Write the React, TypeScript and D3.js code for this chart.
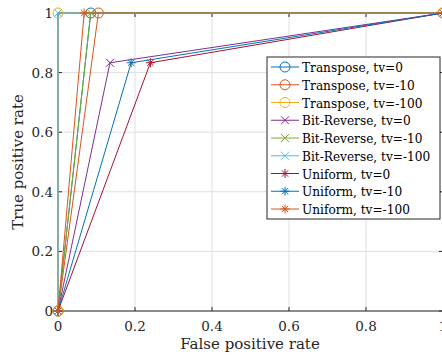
import React, { useEffect, useRef } from 'react';
import * as d3 from 'd3';

// one entry per curve: label, colour, marker, and the middle ROC point
const seriesLabels = [
  'Transpose, tv=0',
  'Transpose, tv=-10',
  'Transpose, tv=-100',
  'Bit-Reverse, tv=0',
  'Bit-Reverse, tv=-10',
  'Bit-Reverse, tv=-100',
  'Uniform, tv=0',
  'Uniform, tv=-10',
  'Uniform, tv=-100',
];
const seriesColors = ['#0072BD', '#D95319', '#EDB120', '#7E2F8E', '#77AC30', '#4DBEEE', '#A2142F', '#0072BD', '#D95319'];
const seriesMarkers = ['o', 'o', 'o', 'x', 'x', 'x', '*', '*', '*'];
const fprValues = [0.085, 0.105, 0, 0.135, 0.085, 0, 0.24, 0.19, 0.068];
const tprValues = [1, 1, 1, 0.833, 1, 1, 0.833, 0.833, 1];

const xTicks = [0, 0.2, 0.4, 0.6, 0.8, 1];
const yTicks = [0, 0.2, 0.4, 0.6, 0.8, 1];

const FONT = "'DejaVu Serif', serif";

const drawMarker = (g, kind, cx, cy, color) => {
  if (kind === 'o') {
    g.append('circle').attr('cx', cx).attr('cy', cy).attr('r', 5)
      .attr('fill', 'none').attr('stroke', color).attr('stroke-width', 1);
  } else if (kind === 'x') {
    const s = 4;
    g.append('path')
      .attr('d', `M${cx - s},${cy - s}L${cx + s},${cy + s}M${cx - s},${cy + s}L${cx + s},${cy - s}`)
      .attr('stroke', color).attr('stroke-width', 1);
  } else {
    const s = 4.5;
    const d = s * 0.707;
    g.append('path')
      .attr('d', `M${cx - s},${cy}L${cx + s},${cy}M${cx},${cy - s}L${cx},${cy + s}M${cx - d},${cy - d}L${cx + d},${cy + d}M${cx - d},${cy + d}L${cx + d},${cy - d}`)
      .attr('stroke', color).attr('stroke-width', 1);
  }
};

const RocChart = () => {
  const svgRef = useRef(null);

  useEffect(() => {
    const svg = d3.select(svgRef.current);
    svg.selectAll('*').remove();

    const left = 58, top = 13, right = 443, bottom = 311;

    const x = d3.scaleLinear().domain([0, 1]).range([left, right]);
    const y = d3.scaleLinear().domain([0, 1]).range([bottom, top]);

    // grid
    const grid = svg.append('g');
    xTicks.forEach(t => {
      grid.append('line').attr('x1', x(t)).attr('x2', x(t)).attr('y1', top).attr('y2', bottom)
        .attr('stroke', '#dfdfdf').attr('stroke-width', 1);
    });
    yTicks.forEach(t => {
      grid.append('line').attr('x1', left).attr('x2', right).attr('y1', y(t)).attr('y2', y(t))
        .attr('stroke', '#dfdfdf').attr('stroke-width', 1);
    });

    // box + ticks
    const axis = svg.append('g').attr('stroke', '#262626').attr('stroke-width', 1).attr('fill', 'none');
    axis.append('rect').attr('x', left).attr('y', top).attr('width', right - left).attr('height', bottom - top);
    xTicks.forEach(t => {
      axis.append('line').attr('x1', x(t)).attr('x2', x(t)).attr('y1', bottom).attr('y2', bottom - 4);
      axis.append('line').attr('x1', x(t)).attr('x2', x(t)).attr('y1', top).attr('y2', top + 4);
    });
    yTicks.forEach(t => {
      axis.append('line').attr('x1', left).attr('x2', left + 4).attr('y1', y(t)).attr('y2', y(t));
      axis.append('line').attr('x1', right).attr('x2', right - 4).attr('y1', y(t)).attr('y2', y(t));
    });

    // tick labels
    svg.append('g').selectAll('text').data(xTicks).enter().append('text')
      .attr('x', d => x(d)).attr('y', bottom + 20)
      .attr('text-anchor', 'middle').style('font-family', FONT).attr('font-size', 13.5).attr('fill', '#262626')
      .text(d => d3.format('~g')(d));
    svg.append('g').selectAll('text').data(yTicks).enter().append('text')
      .attr('x', left - 5).attr('y', d => y(d) + 5)
      .attr('text-anchor', 'end').style('font-family', FONT).attr('font-size', 13.5).attr('fill', '#262626')
      .text(d => d3.format('~g')(d));

    // axis labels
    svg.append('text').attr('x', 250).attr('y', 349)
      .attr('text-anchor', 'middle').style('font-family', FONT).attr('font-size', 15).attr('fill', '#262626')
      .text('False positive rate');
    svg.append('text').attr('transform', `translate(23,${(top + bottom) / 2}) rotate(-90)`)
      .attr('text-anchor', 'middle').style('font-family', FONT).attr('font-size', 15).attr('fill', '#262626')
      .text('True positive rate');

    // curves
    const line = d3.line().x(d => x(d[0])).y(d => y(d[1]));
    seriesLabels.forEach((label, i) => {
      const pts = [[0, 0], [fprValues[i], tprValues[i]], [1, 1]];
      const g = svg.append('g');
      g.append('path').attr('d', line(pts)).attr('fill', 'none')
        .attr('stroke', seriesColors[i]).attr('stroke-width', 1);
      pts.forEach(p => drawMarker(g, seriesMarkers[i], x(p[0]), y(p[1]), seriesColors[i]));
    });

    // legend
    const lg = svg.append('g');
    const lx = 267, ly = 57, lw = 173, lh = 162;
    lg.append('rect').attr('x', lx).attr('y', ly).attr('width', lw).attr('height', lh)
      .attr('fill', '#fff').attr('stroke', '#262626').attr('stroke-width', 1);
    seriesLabels.forEach((label, i) => {
      const cy = 67 + i * 17.75;
      lg.append('line').attr('x1', 271).attr('x2', 299).attr('y1', cy).attr('y2', cy)
        .attr('stroke', seriesColors[i]).attr('stroke-width', 1);
      drawMarker(lg, seriesMarkers[i], 285, cy, seriesColors[i]);
      // DejaVu Serif runs wide, squeeze it a bit to fit the box
      lg.append('text').attr('transform', `translate(302,${cy + 5}) scale(0.88,1)`)
        .style('font-family', FONT).attr('font-size', 13.8).attr('fill', '#000')
        .text(label);
    });
  }, []);

  return <svg ref={svgRef} width={442} height={358} style={{ position: 'absolute', left: 0, top: 0 }}></svg>;
};

export default function App() {
  return <RocChart />;
}
